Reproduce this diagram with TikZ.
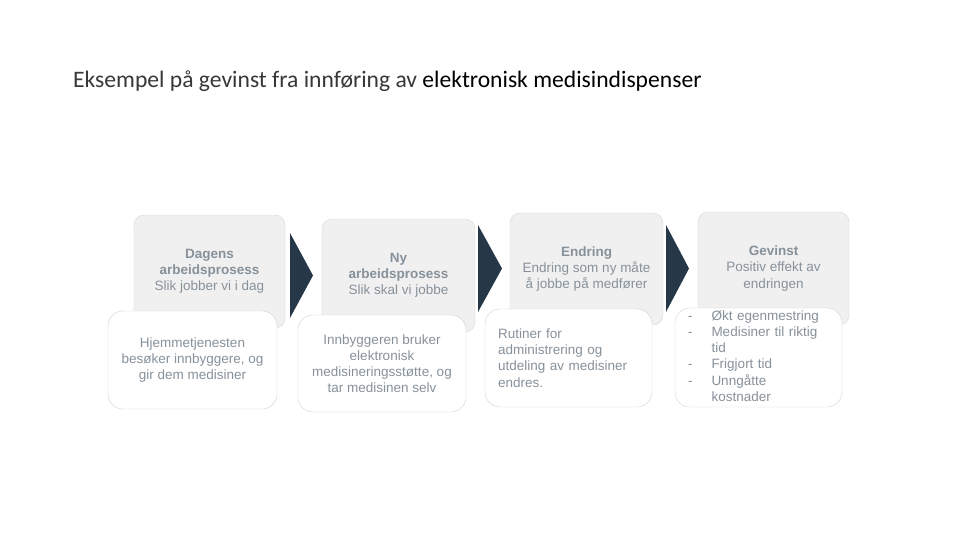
\documentclass[tikz,border=0pt]{standalone}
\usepackage{fontspec}
\setmainfont{Liberation Sans}
\newfontfamily\titlefont{Carlito}
\definecolor{txtgrey}{HTML}{87919A}
\definecolor{boxfill}{HTML}{F0F0F0}
\definecolor{boxline}{HTML}{D8D8D8}
\definecolor{whiteline}{HTML}{D2D2D2}
\definecolor{chevron}{HTML}{263847}
\tikzset{
  greybox/.style={draw=boxline, fill=boxfill, rounded corners=10pt, inner sep=0pt,
    text=txtgrey, align=center, font=\fontsize{13.5}{16.2}\selectfont},
  whitebox/.style={draw=whiteline, fill=white, rounded corners=15pt, inner sep=0pt,
    text=txtgrey, align=center, font=\fontsize{13.5}{16.2}\selectfont},
  leftbox/.style={whitebox, align=left, inner xsep=13pt},
  chev/.style={fill=chevron, draw=none},
}
\begin{document}
\begin{tikzpicture}[x=1pt,y=-1pt]
\useasboundingbox[fill=white] (0,0) rectangle (960,540);
% title
\node[anchor=base west, inner sep=0pt, font=\titlefont\fontsize{23.6}{27}\selectfont] (title) at (73,88)
  {\color{black!78}Eksempel på gevinst fra innføring av \color{black}elektronisk medisindispenser};
% grey boxes
\node[greybox, minimum width=151pt, minimum height=113pt] (g1) at (209.5,271.5)
  {\textbf{Dagens}\\\textbf{arbeidsprosess}\\Slik jobber vi i dag};
\node[greybox, minimum width=153pt, minimum height=113pt] (g2) at (398.5,275.5)
  {\textbf{Ny}\\\textbf{arbeidsprosess}\\Slik skal vi jobbe};
\node[greybox, minimum width=153pt, minimum height=112pt] (g3) at (586.5,269)
  {\textbf{Endring}\\Endring som ny måte\\å jobbe på medfører};
\node[greybox, minimum width=151pt, minimum height=113pt] (g4) at (773.5,268.5)
  {\textbf{Gevinst}\\Positiv effekt av\\endringen};
% chevrons
\path[chev] (290,233) -- (313,275.5) -- (290,318) -- cycle;
\path[chev] (478,225) -- (502,268.5) -- (478,312) -- cycle;
\path[chev] (666,225) -- (689,268.5) -- (666,312) -- cycle;
% white boxes
\node[whitebox, minimum width=169pt, minimum height=98pt] (w1) at (192.5,360)
  {Hjemmetjenesten\\besøker innbyggere, og\\gir dem medisiner};
\node[whitebox, minimum width=168pt, minimum height=97pt] (w2) at (382,363.5)
  {Innbyggeren bruker\\elektronisk\\medisineringsstøtte, og\\tar medisinen selv};
\node[leftbox, text width=141pt, minimum height=98pt] (w3) at (568.5,358)
  {Rutiner for\\administrering og\\utdeling av medisiner\\endres.};
\node[leftbox, text width=141pt, minimum height=99pt] (w4) at (758.5,357.5)
  {\begin{tabular}{@{}l@{\hspace{19pt}}l@{}}
   - & Økt egenmestring\\
   - & Medisiner til riktig\\
     & tid\\
   - & Frigjort tid\\
   - & Unngåtte\\
     & kostnader
   \end{tabular}};
\end{tikzpicture}
\end{document}
